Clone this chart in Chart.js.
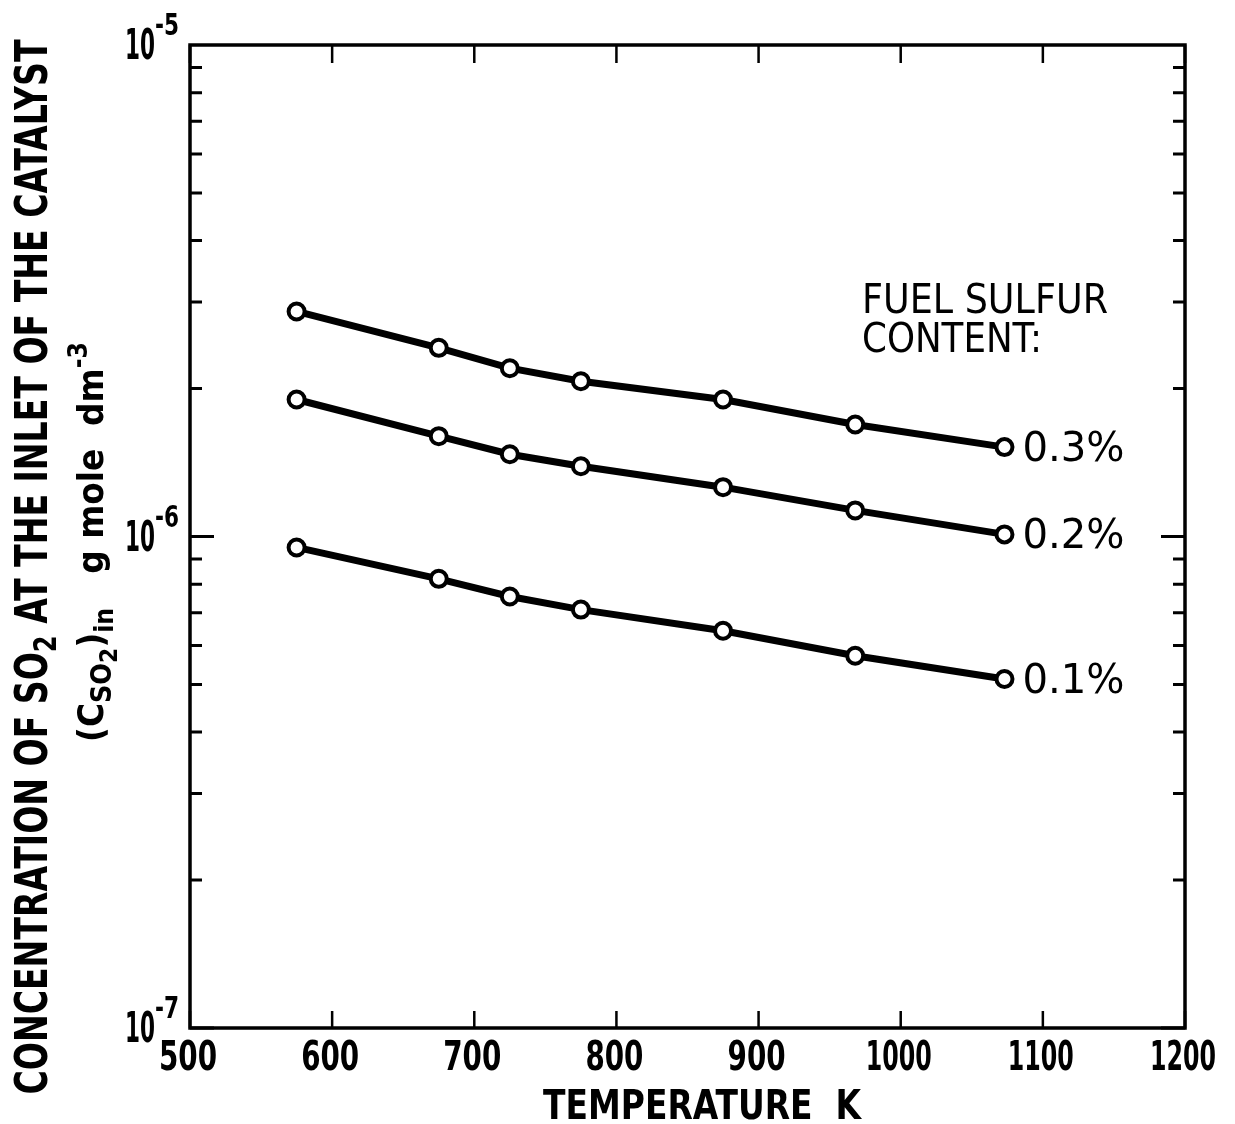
<!DOCTYPE html>
<html>
<head>
<meta charset="utf-8">
<script src="https://cdn.jsdelivr.net/npm/chart.js@4.4.1/dist/chart.umd.min.js"></script>
<style>
  html, body { margin: 0; padding: 0; background: #fff; }
  #wrap { width: 1235px; height: 1124px; position: relative; }
</style>
</head>
<body>
<div id="wrap"><canvas id="c" width="1235" height="1124"></canvas></div>
<script>
// ---- data ----
const temperatures = [575, 675, 725, 775, 875, 968, 1073];
const sulfur03 = [2.87e-6, 2.42e-6, 2.20e-6, 2.07e-6, 1.90e-6, 1.69e-6, 1.52e-6];
const sulfur02 = [1.90e-6, 1.60e-6, 1.47e-6, 1.39e-6, 1.26e-6, 1.13e-6, 1.01e-6];
const sulfur01 = [9.5e-7, 8.2e-7, 7.55e-7, 7.1e-7, 6.43e-7, 5.72e-7, 5.13e-7];
const seriesLabels = ['0.3%', '0.2%', '0.1%'];
const xTicks = [500, 600, 700, 800, 900, 1000, 1100, 1200];
const yDecades = [-7, -6, -5];

const FONT = '"Liberation Sans Narrow", "DejaVu Sans Condensed", "Liberation Sans", sans-serif';

function pts(xs, ys) { return xs.map((x, i) => ({ x: x, y: ys[i] })); }

function dsStyle(label, data) {
  return {
    label: label, data: data,
    borderColor: '#000', borderWidth: 7,
    pointRadius: 8, pointBorderWidth: 4,
    pointBackgroundColor: '#fff', pointBorderColor: '#000',
    tension: 0, fill: false, clip: false
  };
}

// draw segments of text, horizontally scaled to a target width
function richWidth(ctx, segs) {
  let w = 0;
  segs.forEach(s => { ctx.font = (s.bold ? 'bold ' : '') + s.size + 'px ' + FONT; w += ctx.measureText(s.t).width; });
  return w;
}
function drawRich(ctx, segs, x, y, targetW, align) {
  const w = richWidth(ctx, segs);
  const sx = targetW / w;
  ctx.save();
  ctx.translate(x, y);
  ctx.scale(sx, 1);
  let cx = align === 'center' ? -w / 2 : (align === 'right' ? -w : 0);
  ctx.textBaseline = 'alphabetic';
  ctx.textAlign = 'left';
  ctx.fillStyle = '#000';
  segs.forEach(s => {
    ctx.font = (s.bold ? 'bold ' : '') + s.size + 'px ' + FONT;
    ctx.fillText(s.t, cx, s.dy || 0);
    cx += ctx.measureText(s.t).width;
  });
  ctx.restore();
}

const decor = {
  id: 'decor',
  afterDraw(chart) {
    const ctx = chart.ctx;
    const xs = chart.scales.x, ys = chart.scales.y;
    const a = chart.chartArea;
    ctx.save();
    ctx.strokeStyle = '#000';
    ctx.lineCap = 'butt';
    // frame
    ctx.lineWidth = 3.5;
    ctx.strokeRect(a.left, a.top, a.right - a.left, a.bottom - a.top);
    // x ticks (inward, top and bottom)
    ctx.lineWidth = 2.5;
    xTicks.forEach(v => {
      const px = xs.getPixelForValue(v);
      ctx.beginPath();
      ctx.moveTo(px, a.bottom); ctx.lineTo(px, a.bottom - 17);
      ctx.moveTo(px, a.top); ctx.lineTo(px, a.top + 18);
      ctx.stroke();
    });
    // y ticks (inward, left and right)
    ctx.lineWidth = 3;
    for (let d = -7; d <= -6; d++) {
      for (let m = 1; m <= 9; m++) {
        const v = m * Math.pow(10, d);
        const py = ys.getPixelForValue(v);
        const len = m === 1 ? 24 : 12;
        ctx.beginPath();
        ctx.moveTo(a.left, py); ctx.lineTo(a.left + len, py);
        ctx.moveTo(a.right, py); ctx.lineTo(a.right - len, py);
        ctx.stroke();
      }
    }
    // x tick labels
    xTicks.forEach(v => {
      const px = xs.getPixelForValue(v);
      const w = v >= 1000 ? 66 : 58;
      drawRich(ctx, [{ t: String(v), size: 40, bold: true }], px - 2, a.bottom + 42, w, 'center');
    });
    // y tick labels 10^d
    yDecades.forEach(d => {
      const py = ys.getPixelForValue(Math.pow(10, d));
      drawRich(ctx, [{ t: '10', size: 42, bold: true }], 125, py + 14, 30, 'left');
      drawRich(ctx, [{ t: '-' + (-d), size: 30, bold: true }], 155, py - 10, 24, 'left');
    });
    // x axis title
    drawRich(ctx, [{ t: 'TEMPERATURE  K', size: 40, bold: true }], 702, 1119, 318, 'center');
    // y axis title, line 1
    ctx.save();
    ctx.translate(47, 567);
    ctx.rotate(-Math.PI / 2);
    drawRich(ctx, [
      { t: 'CONCENTRATION OF SO', size: 44, bold: true },
      { t: '2', size: 32, bold: true, dy: 9 },
      { t: ' AT THE INLET OF THE CATALYST', size: 44, bold: true }
    ], 0, 0, 1055, 'center');
    ctx.restore();
    // y axis title, line 2
    ctx.save();
    ctx.translate(103, 542);
    ctx.rotate(-Math.PI / 2);
    drawRich(ctx, [
      { t: '(C', size: 36, bold: true },
      { t: 'SO', size: 28, bold: true, dy: 8 },
      { t: '2', size: 24, bold: true, dy: 14 },
      { t: ')', size: 36, bold: true },
      { t: 'in', size: 26, bold: true, dy: 10 },
      { t: '   g mole  dm', size: 36, bold: true },
      { t: '-3', size: 26, bold: true, dy: -16 }
    ], 0, 0, 400, 'center');
    ctx.restore();
    // legend heading
    drawRich(ctx, [{ t: 'FUEL SULFUR', size: 41 }], 862, 313, 246, 'left');
    drawRich(ctx, [{ t: 'CONTENT:', size: 41 }], 862, 352, 180, 'left');
    // series end labels
    const sets = [sulfur03, sulfur02, sulfur01];
    sets.forEach((arr, i) => {
      const last = arr.length - 1;
      const px = xs.getPixelForValue(temperatures[last]);
      const py = ys.getPixelForValue(arr[last]);
      drawRich(ctx, [{ t: seriesLabels[i], size: 41 }], px + 18, py + 14, 102, 'left');
    });
    ctx.restore();
  }
};

new Chart(document.getElementById('c'), {
  type: 'line',
  data: {
    datasets: [
      dsStyle('0.3%', pts(temperatures, sulfur03)),
      dsStyle('0.2%', pts(temperatures, sulfur02)),
      dsStyle('0.1%', pts(temperatures, sulfur01))
    ]
  },
  options: {
    responsive: false,
    animation: false,
    devicePixelRatio: 1,
    layout: { padding: { left: 190, right: 50, top: 45, bottom: 96 } },
    plugins: { legend: { display: false }, tooltip: { enabled: false } },
    scales: {
      x: { type: 'linear', min: 500, max: 1200, display: false },
      y: { type: 'logarithmic', min: 1e-7, max: 1e-5, display: false }
    }
  },
  plugins: [decor]
});
</script>
</body>
</html>
